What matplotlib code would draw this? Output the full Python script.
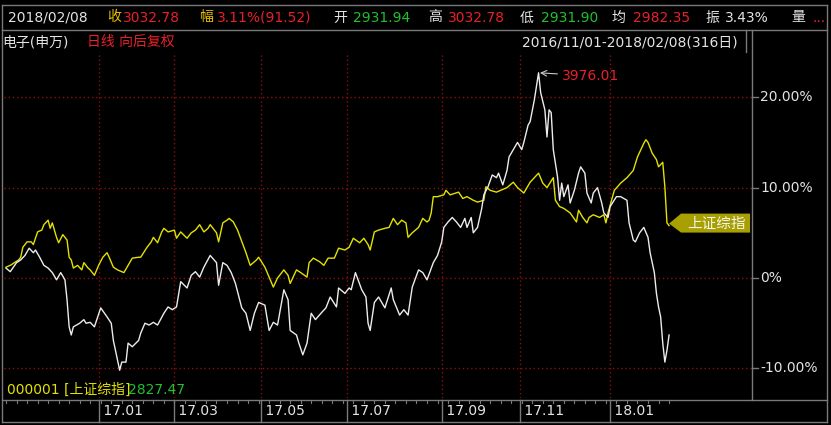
import numpy as np
import matplotlib
matplotlib.use("Agg")
import matplotlib.pyplot as plt
from matplotlib.patches import Polygon
from matplotlib.lines import Line2D
from matplotlib.transforms import blended_transform_factory, IdentityTransform

plt.rcParams['font.family'] = ['DejaVu Sans', 'Noto Sans CJK SC']

# ---------------- data ----------------
elec_days = [0, 2, 5, 7, 9, 11, 13, 14, 16, 18, 20, 22, 24, 26, 28, 29, 30, 31, 32, 35,
             37, 38, 40, 42, 45, 48, 50, 51, 53, 54, 55, 57, 58, 60, 63, 64, 66, 68, 70, 72,
             75, 77, 79, 81, 83, 86, 88, 90, 92, 94, 97, 100, 101, 103, 105, 107, 109, 112, 114, 116,
             118, 120, 123, 125, 127, 129, 132, 134, 135, 138, 139, 141, 143, 145, 147, 150, 152, 154, 157, 158,
             161, 163, 164, 166, 169, 171, 172, 173, 175, 177, 180, 183, 184, 187, 189, 191, 193, 196, 198, 200,
             203, 205, 207, 208, 210, 212, 214, 216, 218, 219, 221, 222, 224, 226, 227, 229, 231, 233, 234, 236,
             238, 239, 241, 243, 245, 246, 248, 249, 251, 253, 254, 256, 257, 258, 259, 260, 262, 263, 264, 265,
             267, 268, 270, 272, 273, 275, 276, 278, 279, 281, 283, 284, 286, 287, 290, 292, 295, 296, 298, 299,
             301, 303, 305, 306, 308, 309, 310, 311, 312, 313, 314, 315]
elec_pct = [1.1, 0.7, 1.7, 2.0, 2.5, 3.3, 2.8, 3.1, 2.3, 1.4, 1.1, 0.6, -0.2, 0.6, -0.2, -2.4, -5.4, -6.3, -5.4, -5.0,
            -4.6, -5.0, -4.9, -5.4, -3.3, -4.3, -5.0, -6.9, -9.1, -10.2, -9.3, -9.3, -7.2, -7.6, -6.9, -6.1, -5.0, -5.2, -4.9, -5.2,
            -3.9, -3.2, -3.5, -3.2, -0.4, -1.1, 0.3, 0.7, 0.1, 1.2, 2.5, 1.7, -0.8, 1.7, 1.4, 0.6, -0.6, -3.3, -3.9, -5.8,
            -3.9, -2.7, -3.0, -5.8, -4.9, -5.2, -1.3, -2.4, -5.8, -6.3, -7.1, -8.5, -7.2, -3.9, -4.6, -3.8, -3.3, -2.1, -3.2, -1.1,
            -1.7, -1.1, -1.3, 0.6, -1.3, -2.1, -5.0, -5.8, -2.7, -2.1, -3.3, -1.1, -2.4, -4.1, -3.5, -4.1, -1.0, 0.9, 0.6, -0.2,
            1.7, 2.5, 4.0, 5.6, 6.2, 6.7, 6.2, 5.6, 6.6, 5.6, 6.7, 5.0, 5.6, 7.7, 9.2, 10.1, 11.4, 11.1, 11.6, 10.3,
            11.9, 13.4, 14.2, 15.0, 14.2, 15.0, 16.9, 17.3, 19.7, 22.7, 20.5, 18.6, 15.6, 18.6, 18.3, 14.2, 11.2, 8.6, 10.5, 9.0,
            10.3, 8.3, 9.7, 11.6, 12.3, 11.6, 9.4, 8.3, 9.4, 10.0, 8.3, 7.2, 6.7, 7.9, 9.0, 9.0, 8.6, 6.1, 4.2, 4.0,
            5.0, 5.6, 4.5, 2.8, 0.6, -1.7, -3.2, -4.3, -7.2, -9.3, -8.0, -6.3]

sh_days = [0, 2, 4, 6, 7, 8, 10, 12, 13, 15, 17, 18, 20, 21, 22, 24, 25, 27, 29, 30,
           31, 32, 34, 36, 37, 39, 40, 42, 44, 46, 48, 49, 51, 53, 55, 56, 58, 60, 63, 64,
           67, 69, 70, 72, 74, 75, 77, 80, 81, 83, 86, 88, 90, 92, 94, 96, 97, 100, 101, 103,
           105, 106, 108, 110, 113, 114, 116, 119, 120, 123, 125, 127, 129, 132, 134, 135, 138, 140, 143, 144,
           146, 149, 151, 153, 156, 158, 161, 163, 164, 165, 168, 170, 172, 173, 175, 177, 180, 182, 184, 186,
           188, 190, 191, 193, 196, 198, 200, 201, 202, 203, 205, 208, 209, 211, 215, 217, 219, 222, 224, 227,
           228, 230, 233, 235, 238, 241, 243, 246, 249, 253, 255, 257, 260, 261, 263, 265, 268, 271, 272, 274,
           276, 277, 279, 282, 284, 285, 286, 289, 292, 295, 298, 300, 303, 304, 305, 307, 309, 310, 312, 313,
           314, 315]
sh_pct = [1.2, 1.4, 1.7, 2.0, 2.3, 3.4, 4.0, 4.0, 3.7, 5.1, 5.3, 5.9, 6.4, 5.5, 6.1, 4.5, 3.9, 4.8, 4.2, 2.3,
          2.0, 1.1, 1.4, 0.9, 1.7, 1.1, 0.9, 0.3, 1.4, 2.3, 2.8, 2.3, 1.2, 0.9, 0.7, 0.6, 1.4, 2.2, 2.3, 2.3,
          3.4, 4.0, 4.5, 3.9, 5.1, 5.5, 5.1, 5.3, 4.4, 5.1, 4.4, 5.0, 5.3, 5.9, 5.1, 5.5, 5.9, 5.0, 4.0, 6.1,
          6.4, 6.6, 6.2, 5.3, 3.4, 2.8, 1.4, 2.0, 2.3, 1.2, 0.1, -1.0, 0.0, 0.9, 0.3, -0.6, 0.9, 0.6, 0.1, 1.7,
          2.2, 1.8, 1.4, 2.2, 2.2, 3.3, 3.1, 3.4, 3.9, 4.4, 3.9, 4.4, 3.7, 3.1, 5.1, 5.3, 5.5, 5.6, 6.6, 5.9,
          6.4, 6.1, 4.5, 5.0, 5.6, 6.6, 6.2, 6.4, 7.2, 9.0, 9.0, 9.2, 9.7, 9.2, 9.5, 8.8, 9.0, 8.6, 8.4, 8.6,
          10.1, 9.7, 9.5, 9.7, 10.0, 10.6, 10.0, 9.4, 10.6, 11.6, 10.5, 10.0, 11.1, 8.6, 7.9, 7.7, 7.2, 6.2, 7.5, 6.7,
          6.1, 6.7, 7.0, 6.7, 7.0, 6.1, 7.2, 9.7, 10.5, 11.1, 11.9, 13.4, 14.9, 15.3, 15.0, 13.8, 13.1, 12.3, 12.8, 10.1,
          6.1, 5.8]

month_days = [44, 80, 121, 162, 207, 244, 287]
month_labels = ['17.01', '17.03', '17.05', '17.07', '17.09', '17.11', '18.01']
y_ticks = [20, 10, 0, -10]
y_tick_labels = ['20.00%', '10.00%', '0%', '-10.00%']

peak_day, peak_pct, peak_label = 253, 22.7, '3976.01'
series_tag = '上证综指'

# header row: (text, x pixel, colour key)
header_items = [('2018/02/08', 8, 'w'), ('收', 107, 'y'), ('3032.78', 123, 'r'),
                ('幅', 199, 'y'), ('3.11%(91.52)', 217, 'r'), ('开', 333, 'w'),
                ('2931.94', 353, 'g'), ('高', 428, 'w'), ('3032.78', 448, 'r'),
                ('低', 520, 'w'), ('2931.90', 541, 'g'), ('均', 612, 'w'),
                ('2982.35', 633, 'r'), ('振', 705, 'w'), ('3.43%', 725, 'w'),
                ('量', 791, 'w'), ('...', 812, 'r')]
title_name = '电子(申万)'
title_mode = '日线 向后复权'
date_range = '2016/11/01-2018/02/08(316日)'
bottom_code = '000001 [上证综指]'
bottom_value = '2827.47'

# ---------------- style ----------------
COL = {'w': '#e4e4e4', 'y': '#e8c000', 'r': '#e8202a', 'g': '#20c030'}
GRID = '#8a1010'
FRAME = '#7a7a7a'
W, H = 831, 425

fig = plt.figure(figsize=(W / 100, H / 100), dpi=100, facecolor='black')


def fx(x):
    return x / W


def fy(y):
    return 1 - y / H


def fline(x0, y0, x1, y1, color=FRAME, lw=1.0):
    fig.add_artist(Line2D([fx(x0), fx(x1)], [fy(y0), fy(y1)], transform=fig.transFigure,
                          color=color, lw=lw))


ax = fig.add_axes([fx(4), fy(398), fx(752) - fx(4), fy(52) - fy(398)])
ax.set_facecolor('black')
ax.set_xlim(-0.95, 354.4)
ax.set_ylim(-13.27, 25.0)
ax.axis('off')

for t in y_ticks:
    ax.axhline(t, color=GRID, lw=1.0, ls=(0, (1, 2)))
for d in month_days:
    ax.axvline(d, color=GRID, lw=1.0, ls=(0, (1, 2)))

ax.plot(sh_days, sh_pct, color='#e2e200', lw=1.0)
ax.plot(elec_days, elec_pct, color='#ececec', lw=1.0)

ax.annotate(peak_label, xy=(peak_day, peak_pct), xytext=(23, -3), textcoords='offset pixels',
            ha='left', va='center', color=COL['r'], fontsize=10,
            arrowprops=dict(arrowstyle='->', color='#c8c8c8', lw=0.8, shrinkA=1, shrinkB=1))

# frames
fline(2, 5, 827, 5)
fline(2, 30, 827, 30)
fline(2, 5, 2, 422)
fline(827, 5, 827, 422)
fline(752, 30, 752, 400)
fline(2, 400, 827, 400)
fline(2, 422, 827, 422)
fline(746, 30, 746, 52)

# right axis labels
tr_y = blended_transform_factory(fig.transFigure, ax.transData)
for t, lab in zip(y_ticks, y_tick_labels):
    ax.add_line(Line2D([fx(752), fx(758)], [t, t], transform=tr_y, color=FRAME, lw=1.0, clip_on=False))
    ax.text(fx(760), t, lab, transform=tr_y, color=COL['w'], fontsize=10, ha='left', va='center',
            clip_on=False)

# bottom date strip
tr_x = blended_transform_factory(ax.transData, fig.transFigure)
for d in np.arange(0, len(range(316)), 5):
    ax.add_line(Line2D([d, d], [fy(400), fy(403)], transform=tr_x, color=FRAME, lw=0.8, clip_on=False))
for d, lab in zip(month_days, month_labels):
    ax.add_line(Line2D([d, d], [fy(400), fy(422)], transform=tr_x, color=FRAME, lw=1.0, clip_on=False))
    ax.text(d, fy(411), ' ' + lab, transform=tr_x, color=COL['w'], fontsize=10, ha='left',
            va='center', clip_on=False)

# header texts
for txt, x, c in header_items:
    fig.text(fx(x), fy(17.5), txt, color=COL[c], fontsize=10, ha='left', va='center')
fig.text(fx(2), fy(42), title_name, color=COL['w'], fontsize=10, ha='left', va='center')
fig.text(fx(87), fy(42), title_mode, color=COL['r'], fontsize=10, ha='left', va='center')
fig.text(fx(522), fy(42), date_range, color=COL['w'], fontsize=10, ha='left', va='center')
fig.text(fx(7), fy(390), bottom_code, color='#e2e200', fontsize=10, ha='left', va='center')
fig.text(fx(128), fy(390), bottom_value, color=COL['g'], fontsize=10, ha='left', va='center')

# series tag (arrow box) at end of Shanghai line
fig.canvas.draw()
tx, ty = ax.transData.transform((sh_days[-1], sh_pct[-1]))
ty += 2
pts = [(tx, ty), (tx + 12, ty + 10), (tx + 81, ty + 10), (tx + 81, ty - 9), (tx + 12, ty - 9)]
fig.add_artist(Polygon(pts, closed=True, transform=IdentityTransform(), facecolor='#a8a000',
                       edgecolor='none'))
fig.text((tx + 47) / W, ty / H, series_tag, color='#f4f4f4', fontsize=10.5, ha='center',
         va='center')

fig.savefig('out.png', dpi=100, facecolor='black')
